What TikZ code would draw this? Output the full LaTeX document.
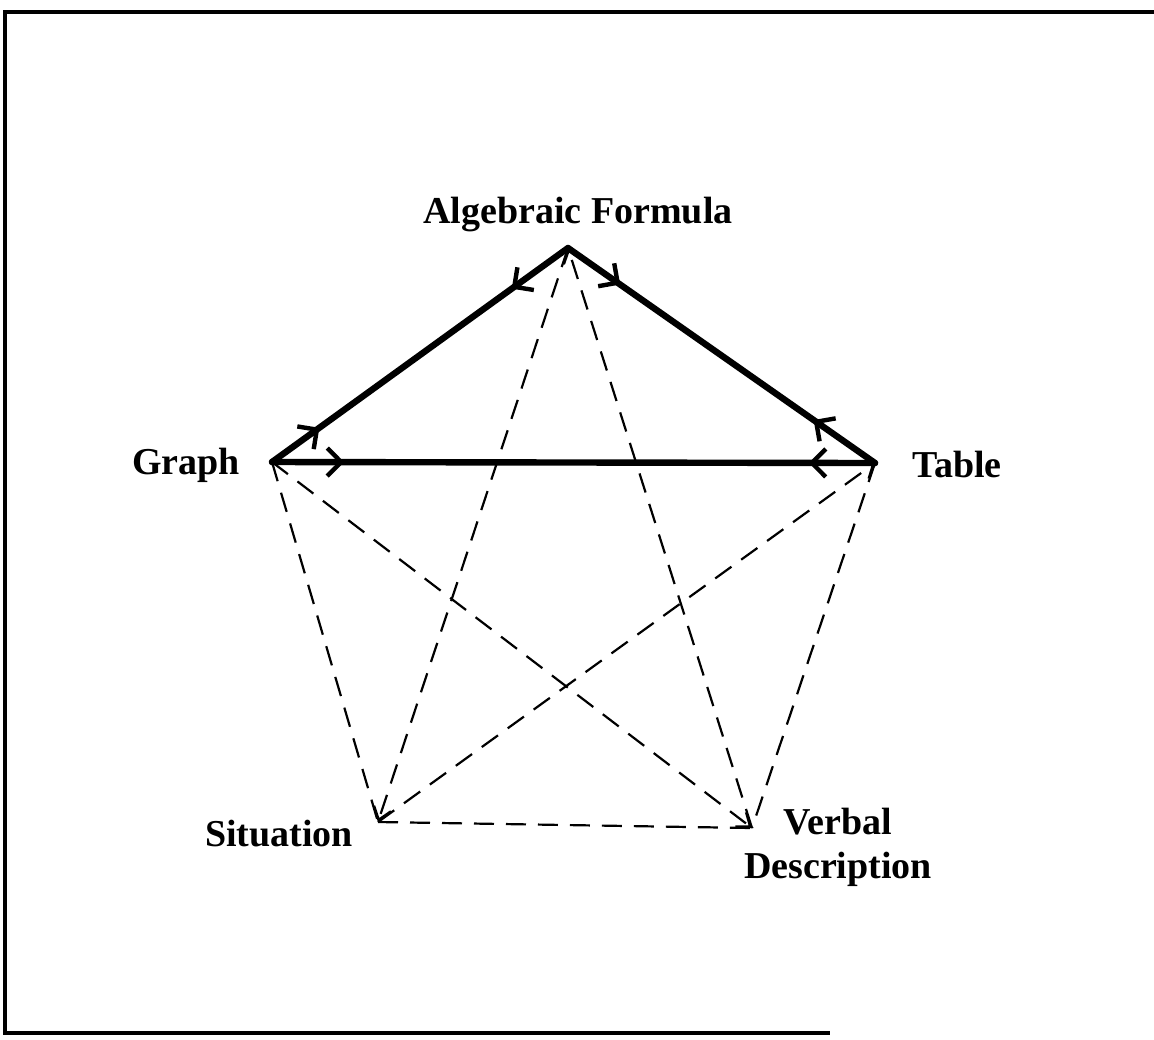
\documentclass[tikz,border=0pt]{standalone}
\usepackage{fontspec}
\setmainfont{Liberation Serif}
\usetikzlibrary{arrows.meta,decorations.markings}
\tikzset{
  solidedge/.style={line width=3.2pt,line cap=round,line join=round},
  dashedge/.style={line width=1.1pt,dash pattern=on 10pt off 6pt},
  dashto/.style={dashedge,-{Straight Barb[length=6pt,width=9pt,line width=1.3pt]}},
  twoway/.style 2 args={postaction={decorate},decoration={markings,
    mark=at position #1 with {\arrow{Straight Barb[length=7pt,width=14pt,line width=2.2pt]}},
    mark=at position #2 with {\arrowreversed{Straight Barb[length=7pt,width=14pt,line width=2.2pt]}}}},
  lbl/.style={font=\fontsize{19}{22}\selectfont\bfseries}
}
\begin{document}
\begin{tikzpicture}[x=0.5pt,y=-0.5pt]
\useasboundingbox (0,0) rectangle (1154,1039);
% frame
\coordinate (tl) at (5,12);
\coordinate (tr) at (1154,12);
\coordinate (bl) at (5,1033);
\coordinate (br) at (830,1033);
\draw[line width=1.6pt] (tr)--(tl)--(bl)--(br);
% corners of the pentagon
\coordinate (F) at (568,248);
\coordinate (G) at (272,462);
\coordinate (T) at (875,463);
\coordinate (S) at (378,822);
\coordinate (V) at (752,828);
\node[lbl] (formula) at (578,215) {Algebraic Formula};
\node[lbl] (graph) at (186,465) {Graph};
\node[lbl] (table) at (957,464) {Table};
\node[lbl] (situation) at (279,834) {Situation};
\node[lbl,align=center] (verbal) at (838,847) {Verbal\\Description};
% dashed links
\draw[dashedge] (G)--(S);
\draw[dashto] (G)--(V);
\draw[dashto] (F)--(S);
\draw[dashto] (V)--(F);
\draw[dashto] (S)--(T);
\draw[dashedge] (T)--(V);
\draw[dashedge] (S)--(V);
% solid links
\draw[solidedge,twoway={0.16}{0.81}] (G)--(F);
\draw[solidedge,twoway={0.17}{0.80}] (F)--(T);
\draw[solidedge,twoway={0.12}{0.89}] (G)--(T);
\end{tikzpicture}
\end{document}
